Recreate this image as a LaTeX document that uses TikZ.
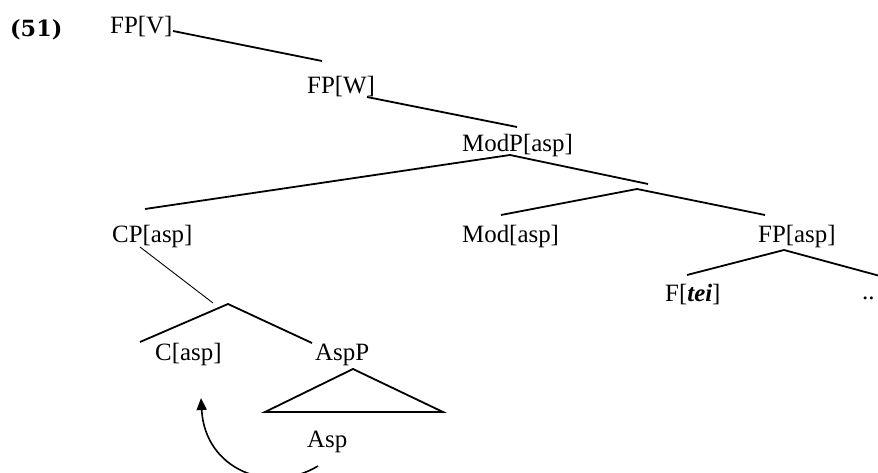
\documentclass[tikz,border=0pt]{standalone}
\usepackage{fontspec}
\setmainfont{Liberation Serif}
\newfontfamily\exfont{DejaVu Serif}
\usepackage{tikz}
\usetikzlibrary{arrows.meta, positioning, calc}
\newcommand{\Feat}[1]{[#1]}
\newcommand{\Morph}[1]{\textbf{\textit{#1}}}
\tikzset{
    lbl/.style={anchor=base west, inner sep=0pt, font=\fontsize{24.9}{30}\selectfont},
    branch/.style={line width=1.8pt},
    thinbranch/.style={line width=0.9pt},
    movearrow/.style={line width=1.6pt, -{Triangle[length=12pt, width=10pt]}},
}

\begin{document}
\begin{tikzpicture}[x=1pt, y=-1pt]
    \useasboundingbox (0,0) rectangle (878,473);
    \clip (0,0) rectangle (878,473);

    \node[lbl, font=\exfont\bfseries\fontsize{22.3}{26}\selectfont] (ex) at (10,37) {(51)};

    \node[lbl] (fpv) at (110,34) {FP\Feat{V}};
    \node[lbl] (fpw) at (307,94) {FP\Feat{W}};
    \node[lbl] (modp) at (462,152) {ModP\Feat{asp}};
    \node[lbl] (cp) at (112,242) {CP\Feat{asp}};
    \node[lbl] (mod) at (462,242) {Mod\Feat{asp}};
    \node[lbl] (fpa) at (758,242) {FP\Feat{asp}};
    \node[lbl] (f) at (665,301) {F[\Morph{tei}]};
    \node[lbl] (dots) at (862,299) {..};
    \node[lbl] (c) at (155,360) {C\Feat{asp}};
    \node[lbl] (aspp) at (315,360) {AspP};
    \node[lbl] (asp) at (307,447) {Asp};

    % branch ends
    \coordinate (fpv-r) at (173,31);
    \coordinate (fpw-t) at (322,61);
    \coordinate (fpw-r) at (367,97);
    \coordinate (modp-t) at (517,127);
    \coordinate (modp-b) at (510,155);
    \coordinate (cp-t) at (145,209);
    \coordinate (bar1-t) at (648,184);
    \coordinate (bar1) at (637,189);
    \coordinate (mod-t) at (501,215);
    \coordinate (fpa-t) at (765,215);
    \coordinate (fpa-b) at (784,250);
    \coordinate (f-t) at (687,275);
    \coordinate (dots-t) at (880,276);
    \coordinate (cp-b) at (140,247);
    \coordinate (bar2-t) at (213,303);
    \coordinate (bar2) at (228,304);
    \coordinate (c-t) at (140,342);
    \coordinate (aspp-t) at (312,343);
    \coordinate (aspp-b) at (353,369);
    \coordinate (tri-l) at (265,412);
    \coordinate (tri-r) at (443,412);
    \coordinate (asp-b) at (318,466);
    \coordinate (c-b) at (201,398);

    \draw[branch] (fpv-r) -- (fpw-t);
    \draw[branch] (fpw-r) -- (modp-t);
    \draw[branch] (modp-b) -- (cp-t);
    \draw[branch] (modp-b) -- (bar1-t);
    \draw[branch] (mod-t) -- (bar1) -- (fpa-t);
    \draw[branch] (f-t) -- (fpa-b) -- (dots-t);
    \draw[thinbranch] (cp-b) -- (bar2-t);
    \draw[branch] (c-t) -- (bar2) -- (aspp-t);
    \draw[branch, line join=miter] (aspp-b) -- (tri-l) -- (tri-r) -- cycle;

    \draw[movearrow] (asp-b) .. controls (270,495) and (205,470) .. (c-b);
\end{tikzpicture}
\end{document}
